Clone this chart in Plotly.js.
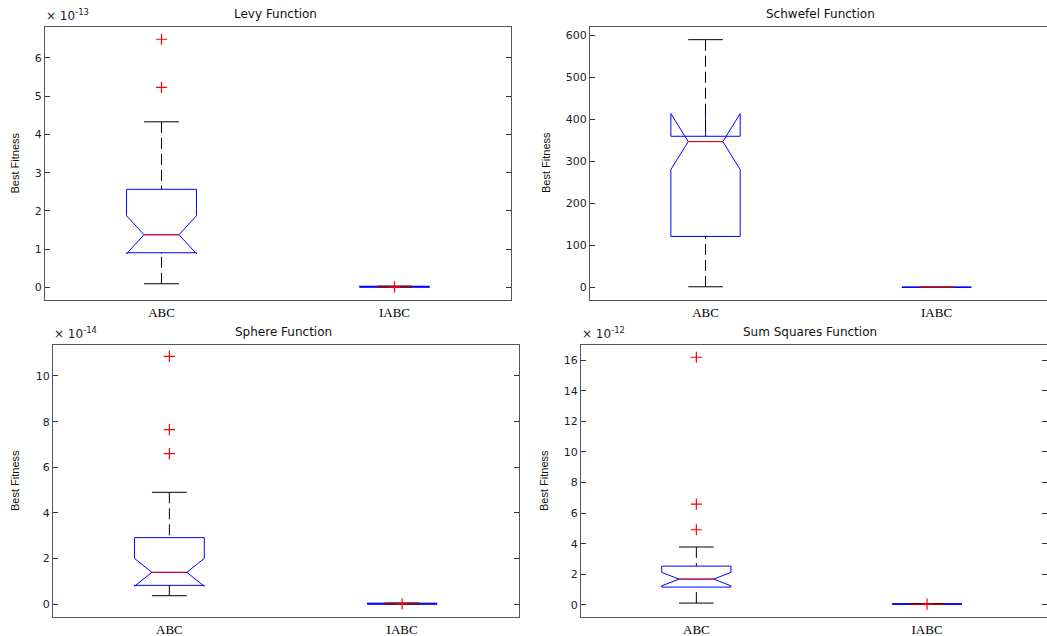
<!DOCTYPE html>
<html><head><meta charset="utf-8">
<script src="https://cdn.plot.ly/plotly-3.0.1.min.js"></script>
<style>html,body{margin:0;padding:0;background:#fff}#chart{width:1047px;height:636px}</style>
</head><body><div id="chart"></div>
<script>
// ---------------- DATA ----------------
const categories = ['ABC', 'IABC'];
const positions = [1, 2];

// Levy Function (axis values shown as multiples of 10^-13)
const levyExponent = -13;
const levyQ1 = [0.906, 0.010];
const levyMedian = [1.377, 0.012];
const levyQ3 = [2.565, 0.030];
const levyLowerWhisker = [0.095, 0.008];
const levyUpperWhisker = [4.33, 0.032];
const levyNotch = [0.497, 0.004];
const levyOutliersABC = [6.49, 5.23];
const levyOutliersIABC = [0.01];

// Schwefel Function
const schwefelExponent = 0;
const schwefelQ1 = [121.3, 0.3];
const schwefelMedian = [347.2, 0.3];
const schwefelQ3 = [359.8, 0.3];
const schwefelLowerWhisker = [1.5, 0.3];
const schwefelUpperWhisker = [589.8, 0.3];
const schwefelNotch = [66.6, 0];
const schwefelOutliersABC = [];
const schwefelOutliersIABC = [];

// Sphere Function (×10^-14)
const sphereExponent = -14;
const sphereQ1 = [0.83, 0.01];
const sphereMedian = [1.40, 0.02];
const sphereQ3 = [2.92, 0.05];
const sphereLowerWhisker = [0.377, 0.005];
const sphereUpperWhisker = [4.905, 0.055];
const sphereNotch = [0.61, 0.01];
const sphereOutliersABC = [10.86, 7.65, 6.60];
const sphereOutliersIABC = [0.02];

// Sum Squares Function (×10^-12)
const sumsqExponent = -12;
const sumsqQ1 = [1.16, 0.03];
const sumsqMedian = [1.68, 0.04];
const sumsqQ3 = [2.53, 0.07];
const sumsqLowerWhisker = [0.11, 0.02];
const sumsqUpperWhisker = [3.78, 0.08];
const sumsqNotch = [0.44, 0.01];
const sumsqOutliersABC = [16.2, 6.59, 4.91];
const sumsqOutliersIABC = [0.04];

// ---------------- STYLE ----------------
const W = 1047, H = 636;
const boxWidth = 0.3, notchWidth = 0.25, whiskerWidth = 0.5;
const capHalf = boxWidth * whiskerWidth / 2;
const medHalf = boxWidth * (1 - 2 * notchWidth) / 2;
const SANS = 'DejaVu Sans, Arial, sans-serif';
const ARIAL = 'Liberation Sans, Arial, sans-serif';
const SERIF = 'Liberation Serif, Times New Roman, serif';

const panels = [
  {title: 'Levy Function', exp: levyExponent, q1: levyQ1, med: levyMedian, q3: levyQ3,
   lo: levyLowerWhisker, hi: levyUpperWhisker, notch: levyNotch,
   out: [levyOutliersABC, levyOutliersIABC],
   px: [45, 511], py: [27, 300], xr: [0.5, 2.5], yr: [-0.33, 6.81], dtick: 1, mirror: 'ticks',
   titlePos: [276, 14], ytPos: [15, 163.5], expPos: [44, 15]},
  {title: 'Schwefel Function', exp: schwefelExponent, q1: schwefelQ1, med: schwefelMedian, q3: schwefelQ3,
   lo: schwefelLowerWhisker, hi: schwefelUpperWhisker, notch: schwefelNotch,
   out: [schwefelOutliersABC, schwefelOutliersIABC],
   px: [590, 1047], py: [27, 300], xr: [0.5, 2.478], yr: [-30, 620], dtick: 100, mirror: false,
   titlePos: [820, 14], ytPos: [546, 163], expPos: null},
  {title: 'Sphere Function', exp: sphereExponent, q1: sphereQ1, med: sphereMedian, q3: sphereQ3,
   lo: sphereLowerWhisker, hi: sphereUpperWhisker, notch: sphereNotch,
   out: [sphereOutliersABC, sphereOutliersIABC],
   px: [53, 518.5], py: [344.7, 617], xr: [0.5, 2.5], yr: [-0.556, 11.37], dtick: 2, mirror: 'ticks',
   titlePos: [283, 332], ytPos: [15, 481], expPos: [52, 333]},
  {title: 'Sum Squares Function', exp: sumsqExponent, q1: sumsqQ1, med: sumsqMedian, q3: sumsqQ3,
   lo: sumsqLowerWhisker, hi: sumsqUpperWhisker, notch: sumsqNotch,
   out: [sumsqOutliersABC, sumsqOutliersIABC],
   px: [581, 1047], py: [344.7, 617], xr: [0.5, 2.52], yr: [-0.8, 17.02], dtick: 2, mirror: 'rightTicks',
   titlePos: [810, 332], ytPos: [544, 481], expPos: [580, 333]}
];

const traces = [];
const layout = {
  width: W, height: H, margin: {l: 0, r: 0, t: 0, b: 0},
  paper_bgcolor: '#fff', plot_bgcolor: '#fff', showlegend: false,
  annotations: []
};

panels.forEach((p, i) => {
  const n = i + 1;
  const xa = 'x' + (n === 1 ? '' : n), ya = 'y' + (n === 1 ? '' : n);
  const xk = 'xaxis' + (n === 1 ? '' : n), yk = 'yaxis' + (n === 1 ? '' : n);

  // notched box (blue)
  traces.push({
    type: 'box', xaxis: xa, yaxis: ya, x: positions,
    q1: p.q1, median: p.med, q3: p.q3, lowerfence: p.q1, upperfence: p.q3,
    notched: true, notchspan: p.notch, notchwidth: notchWidth, width: boxWidth,
    whiskerwidth: 0, boxpoints: false, fillcolor: 'rgba(0,0,0,0)',
    line: {color: '#0000ff', width: 1}, hoverinfo: 'skip'
  });
  // dashed whiskers
  const wx = [], wy = [];
  positions.forEach((pos, k) => {
    wx.push(pos, pos, null, pos, pos, null);
    wy.push(p.hi[k], p.q3[k], null, p.lo[k], p.q1[k], null);
  });
  traces.push({type: 'scatter', mode: 'lines', xaxis: xa, yaxis: ya, x: wx, y: wy,
    line: {color: '#000', width: 1, dash: '11px,5px'}, hoverinfo: 'skip'});
  // whisker caps
  const cx = [], cy = [];
  positions.forEach((pos, k) => {
    cx.push(pos - capHalf, pos + capHalf, null, pos - capHalf, pos + capHalf, null);
    cy.push(p.hi[k], p.hi[k], null, p.lo[k], p.lo[k], null);
  });
  traces.push({type: 'scatter', mode: 'lines', xaxis: xa, yaxis: ya, x: cx, y: cy,
    line: {color: '#000', width: 1}, hoverinfo: 'skip'});
  // red median
  const mx = [], my = [];
  positions.forEach((pos, k) => {
    mx.push(pos - medHalf, pos + medHalf, null);
    my.push(p.med[k], p.med[k], null);
  });
  traces.push({type: 'scatter', mode: 'lines', xaxis: xa, yaxis: ya, x: mx, y: my,
    line: {color: '#ff0000', width: 1}, hoverinfo: 'skip'});
  // outliers
  const ox = [], oy = [];
  positions.forEach((pos, k) => {
    p.out[k].forEach(v => { ox.push(pos); oy.push(v); });
  });
  if (ox.length) traces.push({type: 'scatter', mode: 'markers', xaxis: xa, yaxis: ya, x: ox, y: oy,
    marker: {symbol: 'cross-thin', size: 8, color: '#ff0000', line: {color: '#ff0000', width: 1.2}}, hoverinfo: 'skip'});

  layout[xk] = {
    domain: [p.px[0] / W, p.px[1] / W], range: p.xr, anchor: ya,
    tickvals: positions, ticktext: categories, ticks: '',
    showline: true, mirror: true, linecolor: '#555', linewidth: 1,
    showgrid: false, zeroline: false, fixedrange: true,
    tickfont: {family: SERIF, size: 13, color: '#000'}
  };
  layout[yk] = {
    domain: [1 - p.py[1] / H, 1 - p.py[0] / H], range: p.yr, anchor: xa,
    dtick: p.dtick, tick0: 0, ticks: 'inside', ticklen: 5, tickcolor: '#333',
    showline: true, mirror: p.mirror === 'ticks' ? 'ticks' : false,
    linecolor: '#555', linewidth: 1, showgrid: false, zeroline: false, fixedrange: true,
    tickfont: {family: SANS, size: 11, color: '#1c1c2c'}
  };
  if (p.mirror === 'rightTicks') {
    layout['yaxis5'] = {
      overlaying: ya, side: 'right', anchor: xa, range: p.yr, dtick: p.dtick, tick0: 0,
      ticks: 'inside', ticklen: 5, tickcolor: '#333', showline: false, showticklabels: false,
      showgrid: false, zeroline: false, fixedrange: true
    };
    traces.push({type: 'scatter', mode: 'markers', xaxis: xa, yaxis: 'y5', x: [], y: [], hoverinfo: 'skip'});
  }

  layout.annotations.push({
    xref: 'paper', yref: 'paper', x: p.titlePos[0] / W, y: 1 - p.titlePos[1] / H,
    xanchor: 'center', yanchor: 'middle', showarrow: false, text: p.title,
    font: {family: SANS, size: 12, color: '#111'}
  });
  layout.annotations.push({
    xref: 'paper', yref: 'paper', x: p.ytPos[0] / W, y: 1 - p.ytPos[1] / H,
    xanchor: 'center', yanchor: 'middle', showarrow: false, text: 'Best Fitness', textangle: -90,
    font: {family: ARIAL, size: 11, color: '#111'}
  });
  if (p.expPos) {
    layout.annotations.push({
      xref: 'paper', yref: 'paper', x: p.expPos[0] / W, y: 1 - p.expPos[1] / H,
      xanchor: 'left', yanchor: 'middle', showarrow: false,
      text: '× 10<sup>' + p.exp + '</sup>',
      font: {family: SANS, size: 12, color: '#1c1c2c'}
    });
  }
});

Plotly.newPlot('chart', traces, layout, {displayModeBar: false, staticPlot: true});
</script>
</body></html>
